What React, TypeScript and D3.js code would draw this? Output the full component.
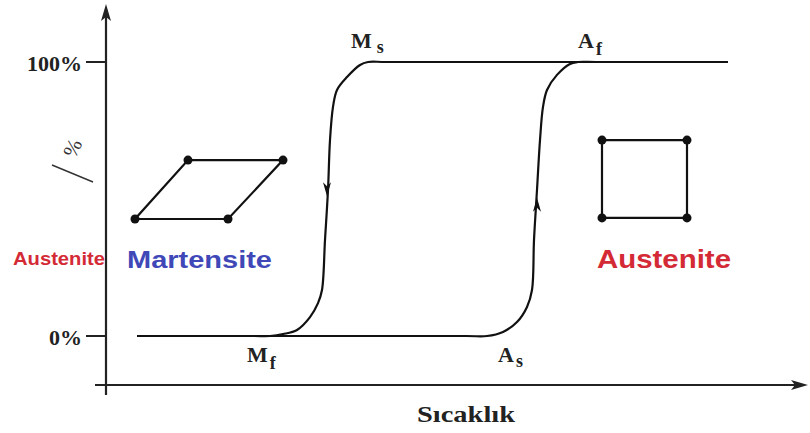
import React from "react";
import * as d3 from "d3";

// Hysteresis data: temperature (arbitrary units) vs transformed fraction (%)
const coolingT = [622, 600, 280, 262, 254, 241, 231, 227, 224, 222, 219, 216, 212, 204, 191, 177, 164, 148, 50, 31];
const coolingP = [100, 100, 100, 100, 98.9, 94.5, 89.8, 83.6, 71.5, 53.3, 35.0, 16.8, 12.0, 6.9, 2.2, 0.7, 0, 0, 0, 0];
const heatingT = [31, 50, 360, 381, 397, 411, 421, 426, 428, 431, 434, 437, 441, 451, 464, 472, 490, 600, 622];
const heatingP = [0, 0, 0, 0, 1.5, 5.1, 10.6, 16.8, 35.0, 53.3, 71.5, 83.6, 89.8, 95.3, 99.3, 100, 100, 100, 100];

const yTicks = [0, 100];
const yTickLabels = ["0%", "100%"];
const xAxisLabel = "Sıcaklık";

// Transformation point labels [letter, subscript, t, p]
const pointLetters = ["M", "A", "M", "A"];
const pointSubs = ["s", "f", "f", "s"];
const pointT = [245, 472, 141, 392];
const pointP = [105, 105, -9.5, -9.5];

// Lattice schematics (in data units)
const martT = [82, 177, 122, 29];
const martP = [64.2, 64.2, 42.7, 42.7];
const austT = [496, 581, 581, 496];
const austP = [71.5, 71.5, 43.1, 43.1];

const W = 810;
const H = 433;

export default function App() {
  const x = d3.scaleLinear().domain([0, 700]).range([106, 806]);
  const y = d3.scaleLinear().domain([0, 100]).range([336, 62]);

  const line = d3
    .line<[number, number]>()
    .x((d) => x(d[0]))
    .y((d) => y(d[1]))
    .curve(d3.curveCatmullRom.alpha(0.5));

  const cooling = coolingT.map((t, i) => [t, coolingP[i]] as [number, number]);
  const heating = heatingT.map((t, i) => [t, heatingP[i]] as [number, number]);

  const poly = d3.line<[number, number]>().x((d) => x(d[0])).y((d) => y(d[1]));
  const mart = martT.map((t, i) => [t, martP[i]] as [number, number]);
  const aust = austT.map((t, i) => [t, austP[i]] as [number, number]);

  const arrowHead = (cx: number, cy: number, dir: number) => {
    const len = 14;
    const hw = 4;
    return `M${cx},${cy} L${cx - hw},${cy - dir * len} L${cx},${cy - dir * (len - 4)} L${cx + hw},${cy - dir * len} Z`;
  };

  const serif = "'Liberation Serif', 'Times New Roman', serif";
  const sans = "'Liberation Sans', Arial, sans-serif";

  const x0 = 106;
  const yAxis = 385;

  return (
    <svg
      width={W}
      height={H}
      style={{ position: "absolute", left: 0, top: 0, background: "#fff" }}
    >
      <rect x={0} y={0} width={W} height={H} fill="#fff" />
      {/* Y axis */}
      <line x1={x0} y1={395} x2={x0} y2={14} stroke="#222" strokeWidth={2.2} />
      <path d={`M${x0},4 L${x0 - 5},21 L${x0},17 L${x0 + 5},21 Z`} fill="#222" />
      {/* X axis */}
      <line x1={95} y1={yAxis} x2={800} y2={yAxis} stroke="#222" strokeWidth={2.2} />
      <path d={`M808,${yAxis} L791,${yAxis - 5} L795,${yAxis} L791,${yAxis + 5} Z`} fill="#222" />

      {/* Y ticks */}
      {yTicks.map((v, i) => (
        <g key={v}>
          <line x1={86} x2={x0} y1={y(v)} y2={y(v)} stroke="#222" strokeWidth={2} />
          <text
            x={82}
            y={y(v) + 9}
            textAnchor="end"
            fontFamily={serif}
            fontWeight="bold"
            fontSize={22}
            fill="#222"
          >
            {yTickLabels[i]}
          </text>
        </g>
      ))}

      {/* rotated y label remnant */}
      <text
        x={0}
        y={0}
        transform="translate(79,151) rotate(-65)"
        textAnchor="middle"
        fontFamily={serif}
        fontSize={21}
        fill="#333"
      >
        %
      </text>
      <line x1={52} y1={165} x2={93} y2={182} stroke="#333" strokeWidth={1.4} />

      {/* X axis label */}
      <text
        x={417}
        y={422}
        fontFamily={serif}
        fontWeight="bold"
        fontSize={24}
        textLength={98}
        lengthAdjust="spacingAndGlyphs"
        fill="#222"
      >
        {xAxisLabel}
      </text>

      {/* Curves */}
      <path d={line(cooling) ?? ""} fill="none" stroke="#111" strokeWidth={2.2} />
      <path d={line(heating) ?? ""} fill="none" stroke="#111" strokeWidth={2.2} />
      <path d={arrowHead(x(221), y(51), 1)} fill="#111" />
      <path d={arrowHead(x(431), y(50.5), -1)} fill="#111" />

      {/* Point labels */}
      {pointLetters.map((L, i) => (
        <text
          key={i}
          x={x(pointT[i])}
          y={y(pointP[i])}
          fontFamily={serif}
          fontWeight="bold"
          fontSize={22}
          fill="#222"
        >
          {L}
          <tspan dx={i === 0 ? 5 : 2} dy={pointSubs[i] === "f" ? 7 : 5} fontSize={18}>
            {pointSubs[i]}
          </tspan>
        </text>
      ))}

      {/* Martensite lattice */}
      <path d={(poly(mart) ?? "") + "Z"} fill="none" stroke="#111" strokeWidth={2.2} />
      {mart.map((d, i) => (
        <circle key={i} cx={x(d[0])} cy={y(d[1])} r={4.5} fill="#111" />
      ))}
      {/* Austenite lattice */}
      <path d={(poly(aust) ?? "") + "Z"} fill="none" stroke="#111" strokeWidth={2.2} />
      {aust.map((d, i) => (
        <circle key={i} cx={x(d[0])} cy={y(d[1])} r={4.5} fill="#111" />
      ))}

      {/* Phase labels */}
      <text
        x={13}
        y={265}
        fontFamily={sans}
        fontWeight="bold"
        fontSize={18}
        textLength={92}
        lengthAdjust="spacingAndGlyphs"
        fill="#d42a36"
      >
        Austenite
      </text>
      <text
        x={127}
        y={268}
        fontFamily={sans}
        fontWeight="bold"
        fontSize={23}
        textLength={145}
        lengthAdjust="spacingAndGlyphs"
        fill="#4048b8"
      >
        Martensite
      </text>
      <text
        x={597}
        y={268}
        fontFamily={sans}
        fontWeight="bold"
        fontSize={25}
        textLength={134}
        lengthAdjust="spacingAndGlyphs"
        fill="#d42a36"
      >
        Austenite
      </text>
    </svg>
  );
}
